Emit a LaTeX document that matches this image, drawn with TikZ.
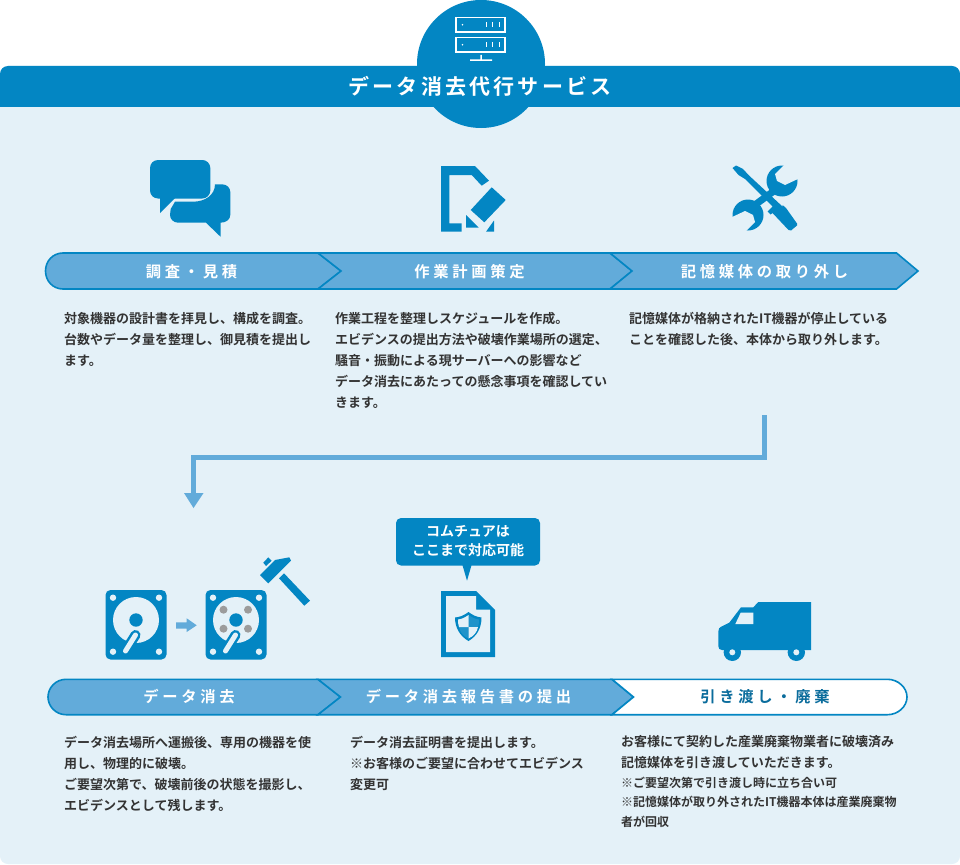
\documentclass[tikz,border=0pt]{standalone}
\usepackage{fontspec}
\setmainfont{Noto Sans CJK JP}[BoldFont={Noto Sans CJK JP Bold}]
\definecolor{mainblue}{HTML}{0386C3}
\definecolor{ribbon}{HTML}{62ABDA}
\definecolor{panel}{HTML}{E4F1F8}
\definecolor{bodytxt}{HTML}{333333}
\definecolor{darktxt}{HTML}{0A6C9C}
\definecolor{disc}{HTML}{9C9C9C}
\definecolor{shieldmid}{HTML}{1F93CA}
\newcommand{\gp}{\hspace{3.7pt}}
\newcommand{\tg}{\hspace{3.2pt}}
\tikzset{
 ribbonshape/.style={fill=ribbon,draw=mainblue,line width=1.6pt,line join=miter},
 ribbonlabel/.style={font=\bfseries\fontsize{15.3}{16}\selectfont,text=white,inner sep=0pt,anchor=center},
 bodytext/.style={font=\bfseries\fontsize{13}{21}\selectfont,text=bodytxt,inner sep=0pt,anchor=north west,align=left},
}
\begin{document}
\begin{tikzpicture}[x=1pt,y=-1pt]
\useasboundingbox (0,0) rectangle (960,864);
\fill[white] (0,0) rectangle (960,864);
% panel
\fill[panel,rounded corners=8pt] (0,66) rectangle (960,864);
\fill[mainblue] (481,64) circle (64);
\fill[mainblue,rounded corners=8pt] (0,66) rectangle (960,90);
\fill[mainblue] (0,76) rectangle (960,107);
% server icon
\draw[white,line width=1.2pt] (456,17.5) rectangle (505,32) (456,37.5) rectangle (505,52);
\fill[white] (462.5,24.7) circle (.9) (462.5,44.7) circle (.9);
\foreach \yy in {22.5,42.5}\foreach \xx in {486,491.5,499}{\fill[white] (\xx,\yy) rectangle +(1.4,5);}
\fill[white] (480.4,55) rectangle (481.8,60) (470,59.5) rectangle (492,61);
\node[font=\bfseries\fontsize{21}{21}\selectfont,text=white,inner sep=0pt] (title) at (480,86) {デ\tg ー\tg タ\tg 消\tg 去\tg 代\tg 行\tg サ\tg ー\tg ビ\tg ス};
% chat icon
\fill[mainblue,rounded corners=8pt] (150,160) rectangle (210.3,198.5);
\fill[mainblue] (160,196) -- (160,213) -- (175,198) -- (175,196) -- cycle;
\fill[mainblue] (170.7,209) -- (175,201.7) -- (193,201.7) .. controls (205,201.7) and (215,195) .. (215,184.3) -- (222,184.3) .. controls (227,184.3) and (230.3,188) .. (230.3,192) -- (230.3,215) .. controls (230.3,219.5) and (226,222.7) .. (220.5,222.7) -- (220.5,236.7) -- (206,222.7) -- (178,222.7) .. controls (173.5,222.7) and (170,219) .. (170,215) -- cycle;
% edit doc icon
\fill[mainblue] (441,166) -- (475,166) -- (489,180.7) -- (481.7,185.7) -- (471.7,175) -- (449.3,175) -- (449.3,223.3) -- (461.7,223.3) -- (461.7,231.7) -- (441,231.7) -- cycle;
\fill[mainblue] (491.7,187.3) -- (505.7,200) -- (484.3,222.3) -- (470.7,210) -- cycle;
\fill[mainblue] (466,215) -- (478.5,227.5) -- (466,227.5) -- cycle;
\fill[mainblue] (494,220.5) -- (494,231.7) -- (486,231.7) -- cycle;
% tools icon
\draw[mainblue,line width=7pt] (752,207) -- (778,188);
\fill[mainblue] (782,181) circle (15.5) (748,215) circle (15.5);
\fill[panel] (785,164) -- (775,174) -- (777,181) -- (785,185) -- (800,178) -- (800,164) -- cycle;
\fill[panel] (745,232) -- (755,222) -- (753,215) -- (745,211) -- (730,218) -- (730,232) -- cycle;
\fill[mainblue] (732.5,168) -- (736,165.5) -- (743,169) -- (749,175.5) -- (782.5,206.5) -- (782.5,205) -- (786,208) -- (797,223.5) -- (797,225.5) -- (791,230.5) -- (788.5,230) -- (772.5,213) -- (770.5,214.5) -- (767.5,211.5) -- (772.5,206.5) -- (745,179) -- (738.5,175) -- cycle;
% upper ribbons
\path[ribbonshape] (63,253) -- (318,253) -- (341,271) -- (318,289) -- (63,289) .. controls (53,289) and (45.5,281) .. (45.5,271) .. controls (45.5,261) and (53,253) .. (63,253) -- cycle;
\path[ribbonshape] (318,253) -- (610,253) -- (632,271) -- (610,289) -- (318,289) -- (341,271) -- cycle;
\path[ribbonshape] (610,253) -- (896.5,253) -- (918,271) -- (896.5,289) -- (610,289) -- (632,271) -- cycle;
\node[ribbonlabel] (s1) at (191.5,272) {調\gp 査\gp ・\gp 見\gp 積};
\node[ribbonlabel] (s2) at (469.5,271.5) {作\gp 業\gp 計\gp 画\gp 策\gp 定};
\node[ribbonlabel] (s3) at (764.5,271.5) {記\gp 憶\gp 媒\gp 体\gp の\gp 取\gp り\gp 外\gp し};
\node[bodytext] (t1) at (64,312) {対象機器の設計書を拝見し、構成を調査。\\台数やデータ量を整理し、御見積を提出し\\ます。};
\node[bodytext] (t2) at (335,312) {作業工程を整理しスケジュールを作成。\\エビデンスの提出方法や破壊作業場所の選定、\\騒音・振動による現サーバーへの影響など\\データ消去にあたっての懸念事項を確認してい\\きます。};
\node[bodytext] (t3) at (629,312.5) {記憶媒体が格納されたIT機器が停止している\\ことを確認した後、本体から取り外します。};
% connector
\coordinate (cstart) at (764,415);
\coordinate (cend) at (193.5,508);
\draw[ribbon,line width=5pt] (cstart) -- (764,457) -- (193.5,457) -- (193.5,493);
\fill[ribbon] (184,493) -- (203.5,493) -- (cend) -- cycle;
% HDD icons
\foreach \ox/\withdisc in {105.5/0,205.5/1}{
 \begin{scope}[shift={(\ox,590)}]
 \fill[mainblue,rounded corners=5pt] (0,0) rectangle (61,69.5);
 \fill[panel] (7.5,7.7) circle (3.2) (53.5,7.7) circle (3.2) (7.5,61.7) circle (3.2) (53.5,61.7) circle (3.2);
 \fill[panel] (30.5,30) circle (23);
 \ifnum\withdisc=1
 \fill[disc] (18,19.7) circle (4) (42.5,19.7) circle (4) (18,38.7) circle (4) (42.5,38.7) circle (4);
 \fi
 \fill[mainblue] (30.5,30) circle (6.7);
 \draw[mainblue,line width=10pt,line cap=round] (30,45) -- (20,61);
 \draw[panel,line width=5pt,line cap=round] (30,45) -- (20,61);
 \end{scope}
}
\fill[ribbon] (176,622.3) -- (186.7,622.3) -- (186.7,618.3) -- (196.7,625.3) -- (186.7,632) -- (186.7,628.7) -- (176,628.7) -- cycle;
% hammer
\fill[mainblue] (263.3,562.7) -- (268.3,557.3) -- (271.7,560.7) -- (266,566) -- cycle;
\fill[mainblue] (260,575) -- (275,560) -- (289.3,557.3) -- (291,560.7) -- (268.3,583.3) -- cycle;
\fill[mainblue] (279,578.3) -- (284,573.3) -- (310,600.7) -- (304.3,605.7) -- cycle;
% callout
\fill[mainblue,rounded corners=5pt] (396,518) rectangle (540,565.5);
\fill[mainblue] (462.3,564.5) -- (471.7,564.5) -- (467,580.7) -- cycle;
\node[font=\bfseries\fontsize{14}{19}\selectfont,text=white,align=center,inner sep=0pt] (callout) at (468,541.5) {コムチュアは\\ここまで対応可能};
% certificate doc
\fill[mainblue] (441,591) -- (476,591) -- (495,610) -- (495,657) -- (441,657) -- cycle;
\fill[panel] (446,596) -- (476,596) -- (476,609.5) -- (490,609.5) -- (490,652) -- (446,652) -- cycle;
\fill[mainblue] (468.5,612) .. controls (473,615.5) and (477,617) .. (481.5,617.5) .. controls (481.5,628) and (477,636) .. (468.5,641) .. controls (460,636) and (455,628) .. (455,617.5) .. controls (460,617) and (464,615.5) .. (468.5,612) -- cycle;
\fill[shieldmid] (468.5,615) .. controls (472,617.5) and (475,619) .. (479,619.5) .. controls (479,622) and (479,624) .. (478,627) -- (468.5,627) -- cycle;
\fill[shieldmid] (468.5,627) -- (459,627) .. controls (460,632) and (463,636) .. (468.5,638.5) -- cycle;
\fill[panel] (468.5,615) -- (468.5,627) -- (459,627) .. controls (458,624) and (458,622) .. (458,619.5) .. controls (462,619) and (465,617.5) .. (468.5,615) -- cycle;
\fill[panel] (468.5,627) -- (478,627) .. controls (477,632) and (474,636) .. (468.5,638.5) -- cycle;
% truck
\fill[mainblue] (758.3,602) -- (811,602) -- (811,650) -- (722,650) .. controls (719.5,650) and (718.3,648.5) .. (718.3,646) -- (718.3,631.7) .. controls (718.5,628.5) and (719.5,627.5) .. (720.7,627) -- (729.3,622.7) -- (741,607.3) -- (753.3,607.3) -- cycle;
\fill[panel] (740.7,612.7) -- (753.3,612.7) -- (753.3,624) -- (735.3,624) -- cycle;
\fill[mainblue] (732.3,652.3) circle (8.7) (796.3,652.3) circle (8.7);
\fill[panel] (732.3,652.3) circle (3) (796.3,652.3) circle (3);
% lower ribbons
\path[ribbonshape] (66,679.3) -- (318,679.3) -- (340.5,697) -- (318,714.7) -- (66,714.7) .. controls (56,714.7) and (48,706.5) .. (48,697) .. controls (48,687.5) and (56,679.3) .. (66,679.3) -- cycle;
\path[ribbonshape] (318,679.3) -- (612,679.3) -- (633.5,697) -- (612,714.7) -- (318,714.7) -- (340.5,697) -- cycle;
\path[fill=white,draw=mainblue,line width=1.6pt] (612,679.3) -- (887.5,679.3) .. controls (898,679.3) and (907,687.5) .. (907,697) .. controls (907,706.5) and (898,714.7) .. (887.5,714.7) -- (612,714.7) -- (633.5,697) -- cycle;
\node[ribbonlabel] (s4) at (189,696.5) {デ\gp ー\gp タ\gp 消\gp 去};
\node[ribbonlabel] (s5) at (468.5,696.5) {デ\gp ー\gp タ\gp 消\gp 去\gp 報\gp 告\gp 書\gp の\gp 提\gp 出};
\node[ribbonlabel,text=darktxt] (s6) at (765,697) {引\gp き\gp 渡\gp し\gp ・\gp 廃\gp 棄};
\node[bodytext] (t4) at (64,736) {データ消去場所へ運搬後、専用の機器を使\\用し、物理的に破壊。\\ご要望次第で、破壊前後の状態を撮影し、\\エビデンスとして残します。};
\node[bodytext] (t5) at (350,736) {データ消去証明書を提出します。\\※お客様のご要望に合わせてエビデンス\\変更可};
\node[bodytext] (t6) at (621,735) {お客様にて契約した産業廃棄物業者に破壊済み\\記憶媒体を引き渡していただきます。};
\node[bodytext,font=\bfseries\fontsize{12}{19.5}\selectfont] (t7) at (621,776.5) {※ご要望次第で引き渡し時に立ち合い可\\※記憶媒体が取り外されたIT機器本体は産業廃棄物\\者が回収};
\end{tikzpicture}
\end{document}
